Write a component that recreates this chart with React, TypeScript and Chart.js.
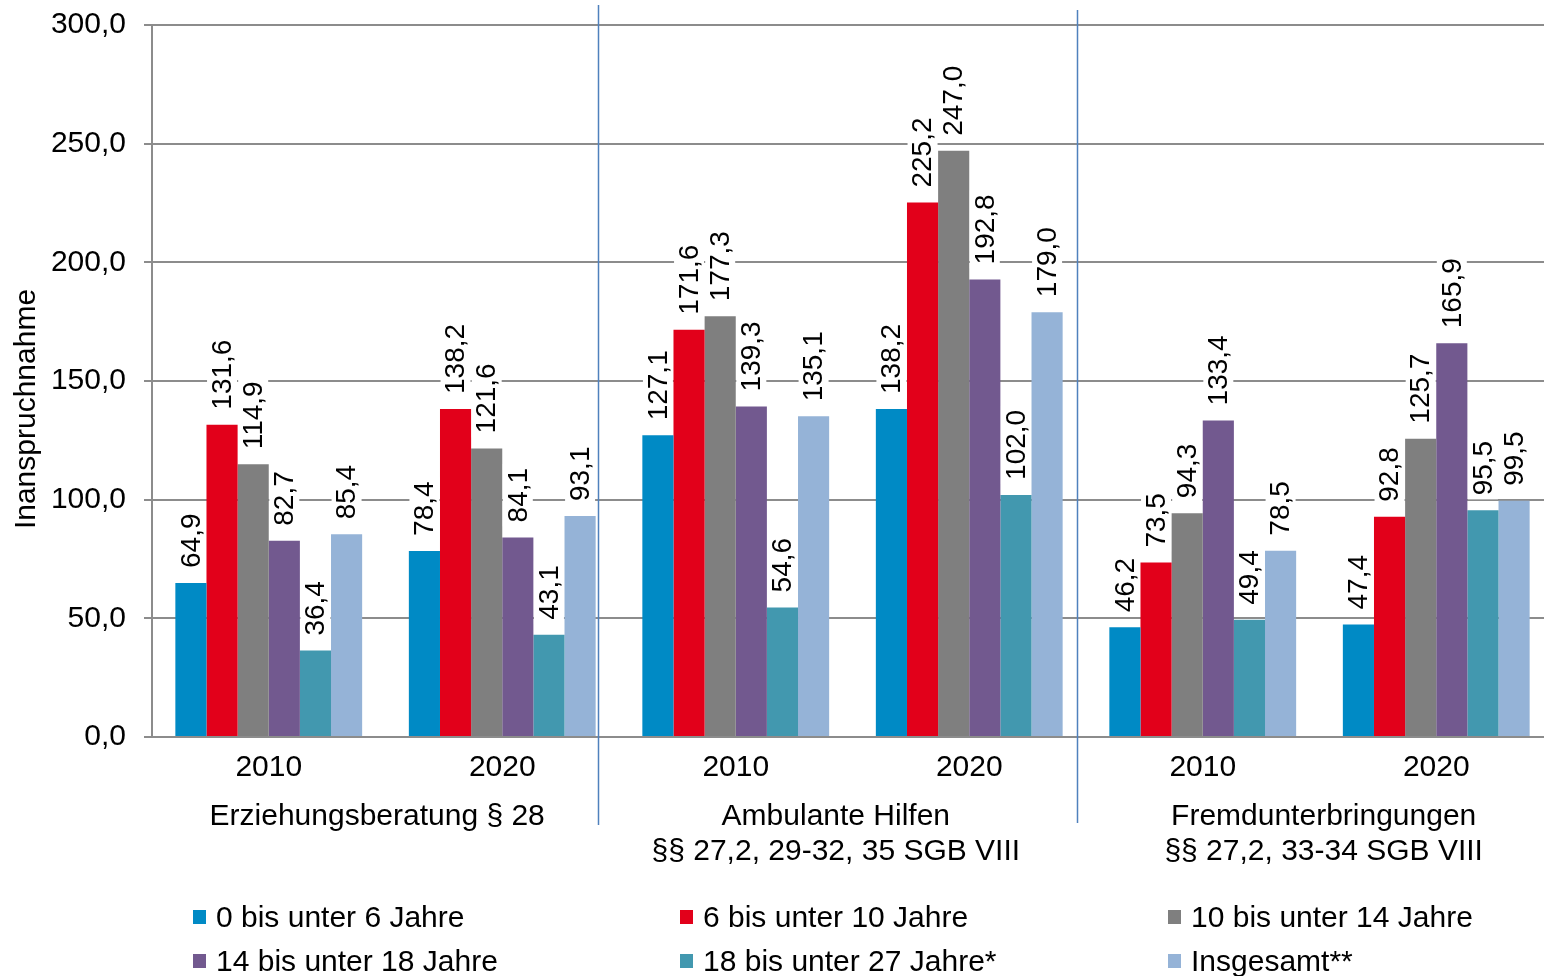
import React, { useEffect, useRef } from 'react';
import { Chart, registerables } from 'chart.js';

Chart.register(...registerables);

const FONT = '"Liberation Sans", Arial, sans-serif';

const categories = ['2010', '2020', '2010', '2020', '2010', '2020'];
const groupLabels: (string | string[])[] = [
  'Erziehungsberatung § 28  ',
  ['Ambulante Hilfen    ', '§§ 27,2, 29-32, 35 SGB VIII    '],
  [' Fremdunterbringungen', ' §§ 27,2, 33-34 SGB VIII'],
];

const seriesNames = [
  '0 bis unter 6 Jahre',
  '6 bis unter 10 Jahre',
  '10 bis unter 14 Jahre',
  '14 bis unter 18 Jahre',
  '18 bis unter 27 Jahre*',
  'Insgesamt**',
];
const seriesColors = ['#008AC5', '#E2001A', '#7F7F7F', '#72598F', '#4298AF', '#95B3D7'];

const age0to6 = [64.9, 78.4, 127.1, 138.2, 46.2, 47.4];
const age6to10 = [131.6, 138.2, 171.6, 225.2, 73.5, 92.8];
const age10to14 = [114.9, 121.6, 177.3, 247.0, 94.3, 125.7];
const age14to18 = [82.7, 84.1, 139.3, 192.8, 133.4, 165.9];
const age18to27 = [36.4, 43.1, 54.6, 102.0, 49.4, 95.5];
const total = [85.4, 93.1, 135.1, 179.0, 78.5, 99.5];
const seriesValues = [age0to6, age6to10, age10to14, age14to18, age18to27, total];

const yMin = 0;
const yMax = 300;
const yStep = 50;
const yTitle = 'Inanspruchnahme';

const fmt = (v: number) => v.toFixed(1).replace('.', ',');

const valueLabelPlugin = {
  id: 'valueLabels',
  afterDatasetsDraw(chart: any) {
    const ctx = chart.ctx;
    ctx.save();
    ctx.font = `28px ${FONT}`;
    chart.getSortedVisibleDatasetMetas().forEach((meta: any) => {
      const data = chart.data.datasets[meta.index].data;
      meta.data.forEach((el: any, i: number) => {
        const text = fmt(data[i]);
        const w = ctx.measureText(text).width;
        ctx.save();
        ctx.translate(el.x, el.y - 15);
        ctx.rotate(-Math.PI / 2);
        ctx.fillStyle = '#ffffff';
        ctx.fillRect(-4, -15, w + 8, 30);
        ctx.fillStyle = '#000000';
        ctx.textAlign = 'left';
        ctx.textBaseline = 'middle';
        ctx.fillText(text, 0, 1);
        ctx.restore();
      });
    });
    ctx.restore();
  },
};

const decorPlugin = {
  id: 'decor',
  afterDraw(chart: any) {
    const ctx = chart.ctx;
    const x = chart.scales.x;
    const area = chart.chartArea;
    const step = x.getPixelForValue(1) - x.getPixelForValue(0);
    ctx.save();
    ctx.strokeStyle = '#4F81BD';
    ctx.lineWidth = 1.5;
    const seps = [
      { v: 1, f: 0.41, y0: 5, y1: 825 },
      { v: 3, f: 0.46, y0: 10, y1: 823 },
    ];
    seps.forEach((s) => {
      const px = Math.round(x.getPixelForValue(s.v) + s.f * step) + 0.5;
      ctx.beginPath();
      ctx.moveTo(px, s.y0);
      ctx.lineTo(px, s.y1);
      ctx.stroke();
    });
    // y-axis title
    ctx.fillStyle = '#000';
    ctx.font = `30px ${FONT}`;
    ctx.textAlign = 'center';
    ctx.textBaseline = 'middle';
    ctx.translate(27, (area.top + area.bottom) / 2 + 28);
    ctx.rotate(-Math.PI / 2);
    ctx.fillText(yTitle, 0, 0);
    ctx.restore();
  },
};

function ChartView() {
  const ref = useRef<HTMLCanvasElement | null>(null);
  useEffect(() => {
    if (!ref.current) return;
    const chart = new Chart(ref.current, {
      type: 'bar',
      data: {
        labels: categories,
        datasets: seriesValues.map((vals, i) => ({
          label: seriesNames[i],
          data: vals,
          backgroundColor: seriesColors[i],
          borderWidth: 0,
          categoryPercentage: 0.8,
          barPercentage: 1.0,
        })),
      },
      options: {
        animation: false,
        responsive: false,
        devicePixelRatio: 1,
        layout: { padding: { top: 25, left: 0, right: 0, bottom: 0 } },
        plugins: {
          legend: { display: false },
          tooltip: { enabled: false },
        },
        scales: {
          x: {
            type: 'category',
            position: 'bottom',
            weight: 0,
            grid: { display: false },
            border: { display: true, color: '#8c8c8c', width: 2 },
            ticks: {
              color: '#000',
              font: { family: FONT, size: 30 },
              padding: 5,
              maxRotation: 0,
              autoSkip: false,
            },
            afterFit(scale: any) {
              scale.height = 50;
              scale.paddingLeft = 0;
              scale.paddingRight = 0;
            },
          },
          x2: {
            type: 'category',
            position: 'bottom',
            weight: 1,
            labels: groupLabels as any,
            grid: { display: false },
            border: { display: false },
            ticks: {
              color: '#000',
              font: { family: FONT, size: 30, lineHeight: 1.17 },
              padding: 4,
              maxRotation: 0,
              autoSkip: false,
            },
            afterFit(scale: any) {
              scale.height = 976 - 737 - 50;
              scale.paddingLeft = 0;
              scale.paddingRight = 0;
            },
          },
          y: {
            min: yMin,
            max: yMax,
            ticks: {
              stepSize: yStep,
              color: '#000',
              font: { family: FONT, size: 30 },
              padding: 18,
              callback: (v: any) => fmt(Number(v)),
            },
            grid: { color: '#8c8c8c', lineWidth: 2, tickLength: 8, drawTicks: true },
            border: { display: true, color: '#8c8c8c', width: 2 },
            afterFit(scale: any) {
              scale.width = 152;
              scale.paddingTop = 0;
              scale.paddingBottom = 0;
            },
          },
        },
      } as any,
      plugins: [valueLabelPlugin, decorPlugin],
    });
    return () => chart.destroy();
  }, []);
  return <canvas ref={ref} width={1553} height={976} style={{ display: 'block' }} />;
}

const legendCols = [193, 680, 1168];
const legendRows = [917, 961];

export default function App() {
  return (
    <div
      style={{
        position: 'fixed',
        left: 0,
        top: 0,
        width: 1544,
        height: 976,
        overflow: 'hidden',
        background: '#fff',
      }}
    >
      <ChartView />
      {seriesNames.map((name, i) => (
        <div
          key={name}
          style={{
            position: 'absolute',
            left: legendCols[i % 3],
            top: legendRows[Math.floor(i / 3)] - 20,
            height: 40,
            display: 'flex',
            alignItems: 'center',
            whiteSpace: 'nowrap',
            fontFamily: FONT,
            fontSize: 30,
            color: '#000',
          }}
        >
          <span
            style={{
              display: 'inline-block',
              width: 13,
              height: 14,
              background: seriesColors[i],
              marginRight: 10,
            }}
          />
          <span>{name}</span>
        </div>
      ))}
    </div>
  );
}
